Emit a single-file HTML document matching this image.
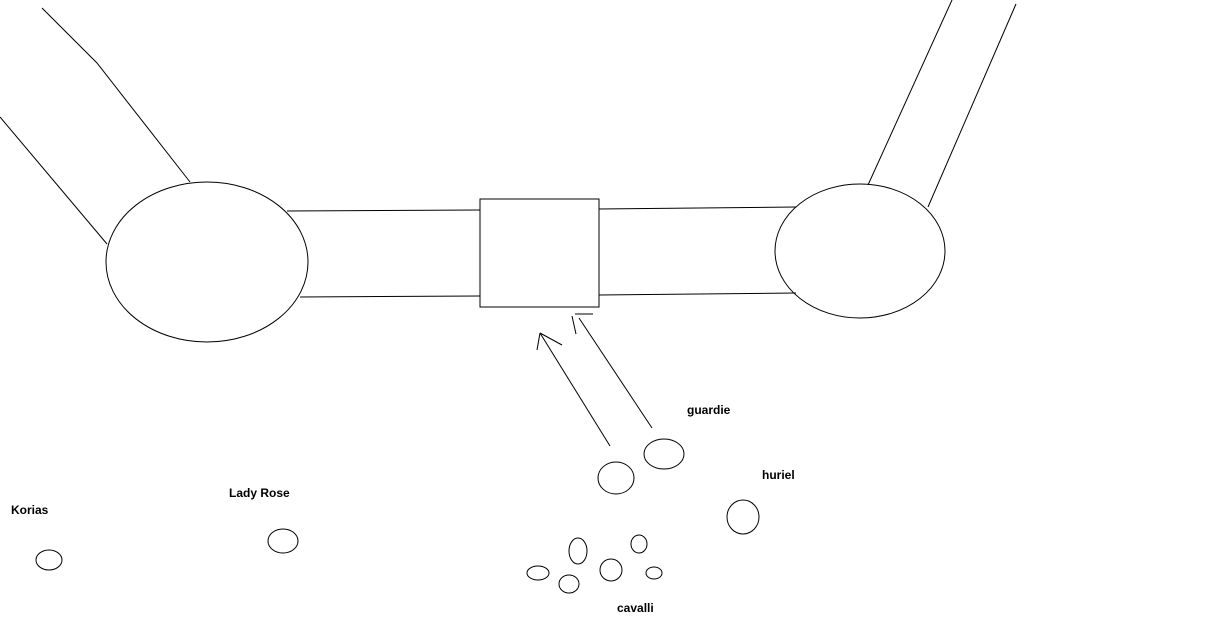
<!DOCTYPE html>
<html><head><style>body{margin:0;background:#fff}svg{display:block}text{font-family:"Liberation Sans",sans-serif;font-weight:bold;font-size:12px;fill:#000}</style></head>
<body><svg width="1217" height="636" viewBox="0 0 1217 636" fill="none" stroke="#000" stroke-width="1">
<polyline points="42,8 97,63 190,182"/>
<line x1="0" y1="117" x2="107" y2="244"/>
<line x1="952" y1="0" x2="868" y2="185"/>
<line x1="1016" y1="4" x2="928" y2="207"/>
<ellipse cx="207" cy="262" rx="101" ry="80"/>
<ellipse cx="860" cy="251" rx="85" ry="67"/>
<rect x="480" y="199" width="119" height="108"/>
<line x1="287" y1="211" x2="480" y2="210"/>
<line x1="300" y1="297" x2="480" y2="296"/>
<line x1="599" y1="209" x2="796" y2="207"/>
<line x1="599" y1="295" x2="796" y2="293"/>
<line x1="610" y1="446" x2="540" y2="333"/>
<line x1="540" y1="333" x2="562" y2="345"/>
<line x1="540" y1="333" x2="537" y2="350"/>
<line x1="652" y1="428" x2="579" y2="318"/>
<line x1="572" y1="316" x2="576" y2="334"/>
<line x1="575" y1="314" x2="593" y2="314"/>
<ellipse cx="616" cy="478" rx="18" ry="16"/>
<ellipse cx="664" cy="454" rx="20" ry="15"/>
<ellipse cx="743" cy="517" rx="16" ry="17"/>
<ellipse cx="283" cy="541" rx="15" ry="12"/>
<ellipse cx="49" cy="560" rx="13" ry="10"/>
<ellipse cx="538" cy="573" rx="11" ry="7"/>
<ellipse cx="578" cy="551" rx="9" ry="13"/>
<ellipse cx="569" cy="584" rx="10" ry="9"/>
<ellipse cx="611" cy="570" rx="11" ry="11"/>
<ellipse cx="639" cy="544" rx="8" ry="9"/>
<ellipse cx="654" cy="573" rx="8" ry="6"/>
<g stroke="none">
<text x="687" y="414">guardie</text>
<text x="762" y="479">huriel</text>
<text x="229" y="497">Lady Rose</text>
<text x="11" y="514">Korias</text>
<text x="617" y="612">cavalli</text>
</g>
</svg></body></html>
